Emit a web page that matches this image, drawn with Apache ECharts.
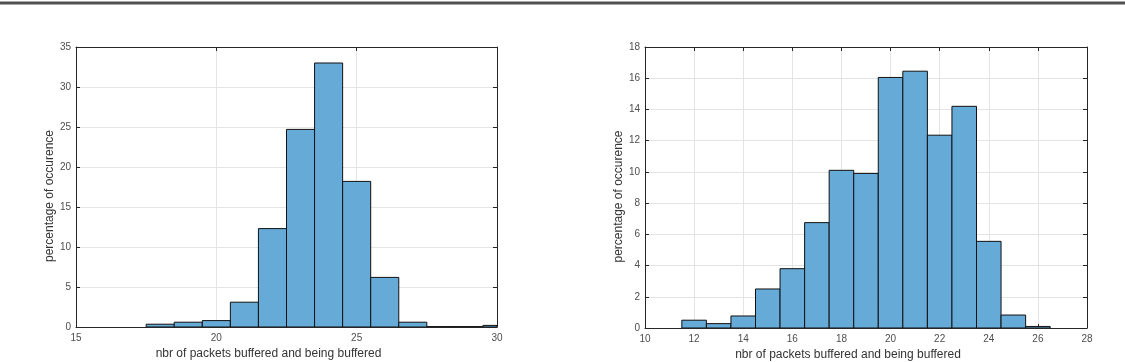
<!DOCTYPE html>
<html>
<head>
<meta charset="utf-8">
<script src="https://cdn.jsdelivr.net/npm/echarts@6/dist/echarts.min.js"></script>
<style>
  html, body { margin: 0; padding: 0; background: #fff; }
  #chart { width: 1125px; height: 362px; }
</style>
</head>
<body>
<div id="chart"></div>
<script>
// 左图：直方图数据（每个柱子宽度 1，以整数为中心）
const leftBins = [18, 19, 20, 21, 22, 23, 24, 25, 26, 27, 28, 29, 30]
const leftValues = [0.35, 0.6, 0.8, 3.1, 12.3, 24.7, 33.0, 18.2, 6.2, 0.6, 0.05, 0.05, 0.2]
const leftXTicks = [15, 20, 25, 30]
const leftYTicks = [0, 5, 10, 15, 20, 25, 30, 35]

// 右图
const rightBins = [12, 13, 14, 15, 16, 17, 18, 19, 20, 21, 22, 23, 24, 25, 26]
const rightValues = [0.5, 0.28, 0.77, 2.5, 3.8, 6.75, 10.1, 9.9, 16.05, 16.45, 12.35, 14.2, 5.55, 0.83, 0.1]
const rightXTicks = [10, 12, 14, 16, 18, 20, 22, 24, 26, 28]
const rightYTicks = [0, 2, 4, 6, 8, 10, 12, 14, 16, 18]

const xName = 'nbr of packets buffered and being buffered'
const yName = 'percentage of occurence'
const binWidth = 1

const font = 'Liberation Sans, Arial, Helvetica, sans-serif'
const axisColor = '#262626'
const labelColor = '#4d4d4d'
const gridColor = '#e4e4e4'
const barColor = '#66aad7'

var myChart = echarts.init(document.querySelector('#chart'))

// 主坐标轴（带刻度文字）
const mainX = (gridIndex, ticks) => ({
  type: 'value',
  gridIndex,
  min: ticks[0],
  max: ticks[ticks.length - 1],
  interval: ticks[1] - ticks[0],
  name: xName,
  nameLocation: 'middle',
  nameGap: 21,
  //名字稍微偏左
  nameTextStyle: { fontFamily: font, fontSize: 12, color: '#333', padding: [0, 36, 0, 0] },
  axisLine: { show: true, onZero: false, lineStyle: { color: axisColor, width: 1 } },
  axisTick: { show: true, inside: true, length: 4, lineStyle: { color: axisColor } },
  axisLabel: { fontFamily: font, fontSize: 10, color: labelColor, margin: 6 },
  splitLine: { show: true, lineStyle: { color: gridColor, width: 1 } }
})

const mainY = (gridIndex, ticks) => ({
  type: 'value',
  gridIndex,
  min: ticks[0],
  max: ticks[ticks.length - 1],
  interval: ticks[1] - ticks[0],
  name: yName,
  nameLocation: 'middle',
  nameRotate: 90,
  nameGap: 20,
  //名字稍微偏下
  nameTextStyle: { fontFamily: font, fontSize: 12, color: '#333', padding: [0, 18, 0, 0] },
  axisLine: { show: true, lineStyle: { color: axisColor, width: 1 } },
  axisTick: { show: true, inside: true, length: 4, lineStyle: { color: axisColor } },
  axisLabel: { fontFamily: font, fontSize: 10, color: labelColor, margin: 5 },
  splitLine: { show: true, lineStyle: { color: gridColor, width: 1 } }
})

// 上边 / 右边的框线（只有刻度）
const boxX = (gridIndex, ticks) => ({
  type: 'value',
  gridIndex,
  position: 'top',
  min: ticks[0],
  max: ticks[ticks.length - 1],
  interval: ticks[1] - ticks[0],
  axisLine: { show: true, onZero: false, lineStyle: { color: axisColor, width: 1 } },
  axisTick: { show: true, inside: true, length: 4, lineStyle: { color: axisColor } },
  axisLabel: { show: false },
  splitLine: { show: false }
})

const boxY = (gridIndex, ticks) => ({
  type: 'value',
  gridIndex,
  position: 'right',
  min: ticks[0],
  max: ticks[ticks.length - 1],
  interval: ticks[1] - ticks[0],
  axisLine: { show: true, onZero: false, lineStyle: { color: axisColor, width: 1 } },
  axisTick: { show: true, inside: true, length: 4, lineStyle: { color: axisColor } },
  axisLabel: { show: false },
  splitLine: { show: false }
})

// 柱子：用 custom series 画出每个 bin 的矩形
const histSeries = (axisIndex, bins, values) => ({
  type: 'custom',
  xAxisIndex: axisIndex,
  yAxisIndex: axisIndex,
  clip: true,
  data: bins.map((b, i) => [b, values[i]]),
  renderItem: (params, api) => {
    const c = api.value(0)
    const v = api.value(1)
    const p0 = api.coord([c - binWidth / 2, v])
    const p1 = api.coord([c + binWidth / 2, 0])
    const rect = echarts.graphic.clipRectByRect(
      { x: p0[0], y: p0[1], width: p1[0] - p0[0], height: p1[1] - p0[1] },
      params.coordSys
    )
    if (!rect) return
    return {
      type: 'rect',
      shape: rect,
      style: { fill: barColor, stroke: '#111', lineWidth: 1 }
    }
  }
})

option = {
  animation: false,
  grid: [
    { left: 76, top: 47, width: 421, height: 280, outerBoundsMode: 'none', containLabel: false },
    { left: 645, top: 47, width: 442, height: 281, outerBoundsMode: 'none', containLabel: false }
  ],
  xAxis: [
    mainX(0, leftXTicks),
    mainX(1, rightXTicks),
    boxX(0, leftXTicks),
    boxX(1, rightXTicks)
  ],
  yAxis: [
    mainY(0, leftYTicks),
    mainY(1, rightYTicks),
    boxY(0, leftYTicks),
    boxY(1, rightYTicks)
  ],
  series: [
    histSeries(0, leftBins, leftValues),
    histSeries(1, rightBins, rightValues)
  ],
  graphic: [
    // 顶部的分隔线
    { type: 'rect', shape: { x: 0, y: 1, width: 1125, height: 4 }, style: { fill: '#a8a8a8' } },
    { type: 'line', shape: { x1: 0, y1: 3, x2: 1125, y2: 3 }, style: { stroke: '#333', lineWidth: 1.5 } }
  ]
}
myChart.setOption(option)
</script>
</body>
</html>
